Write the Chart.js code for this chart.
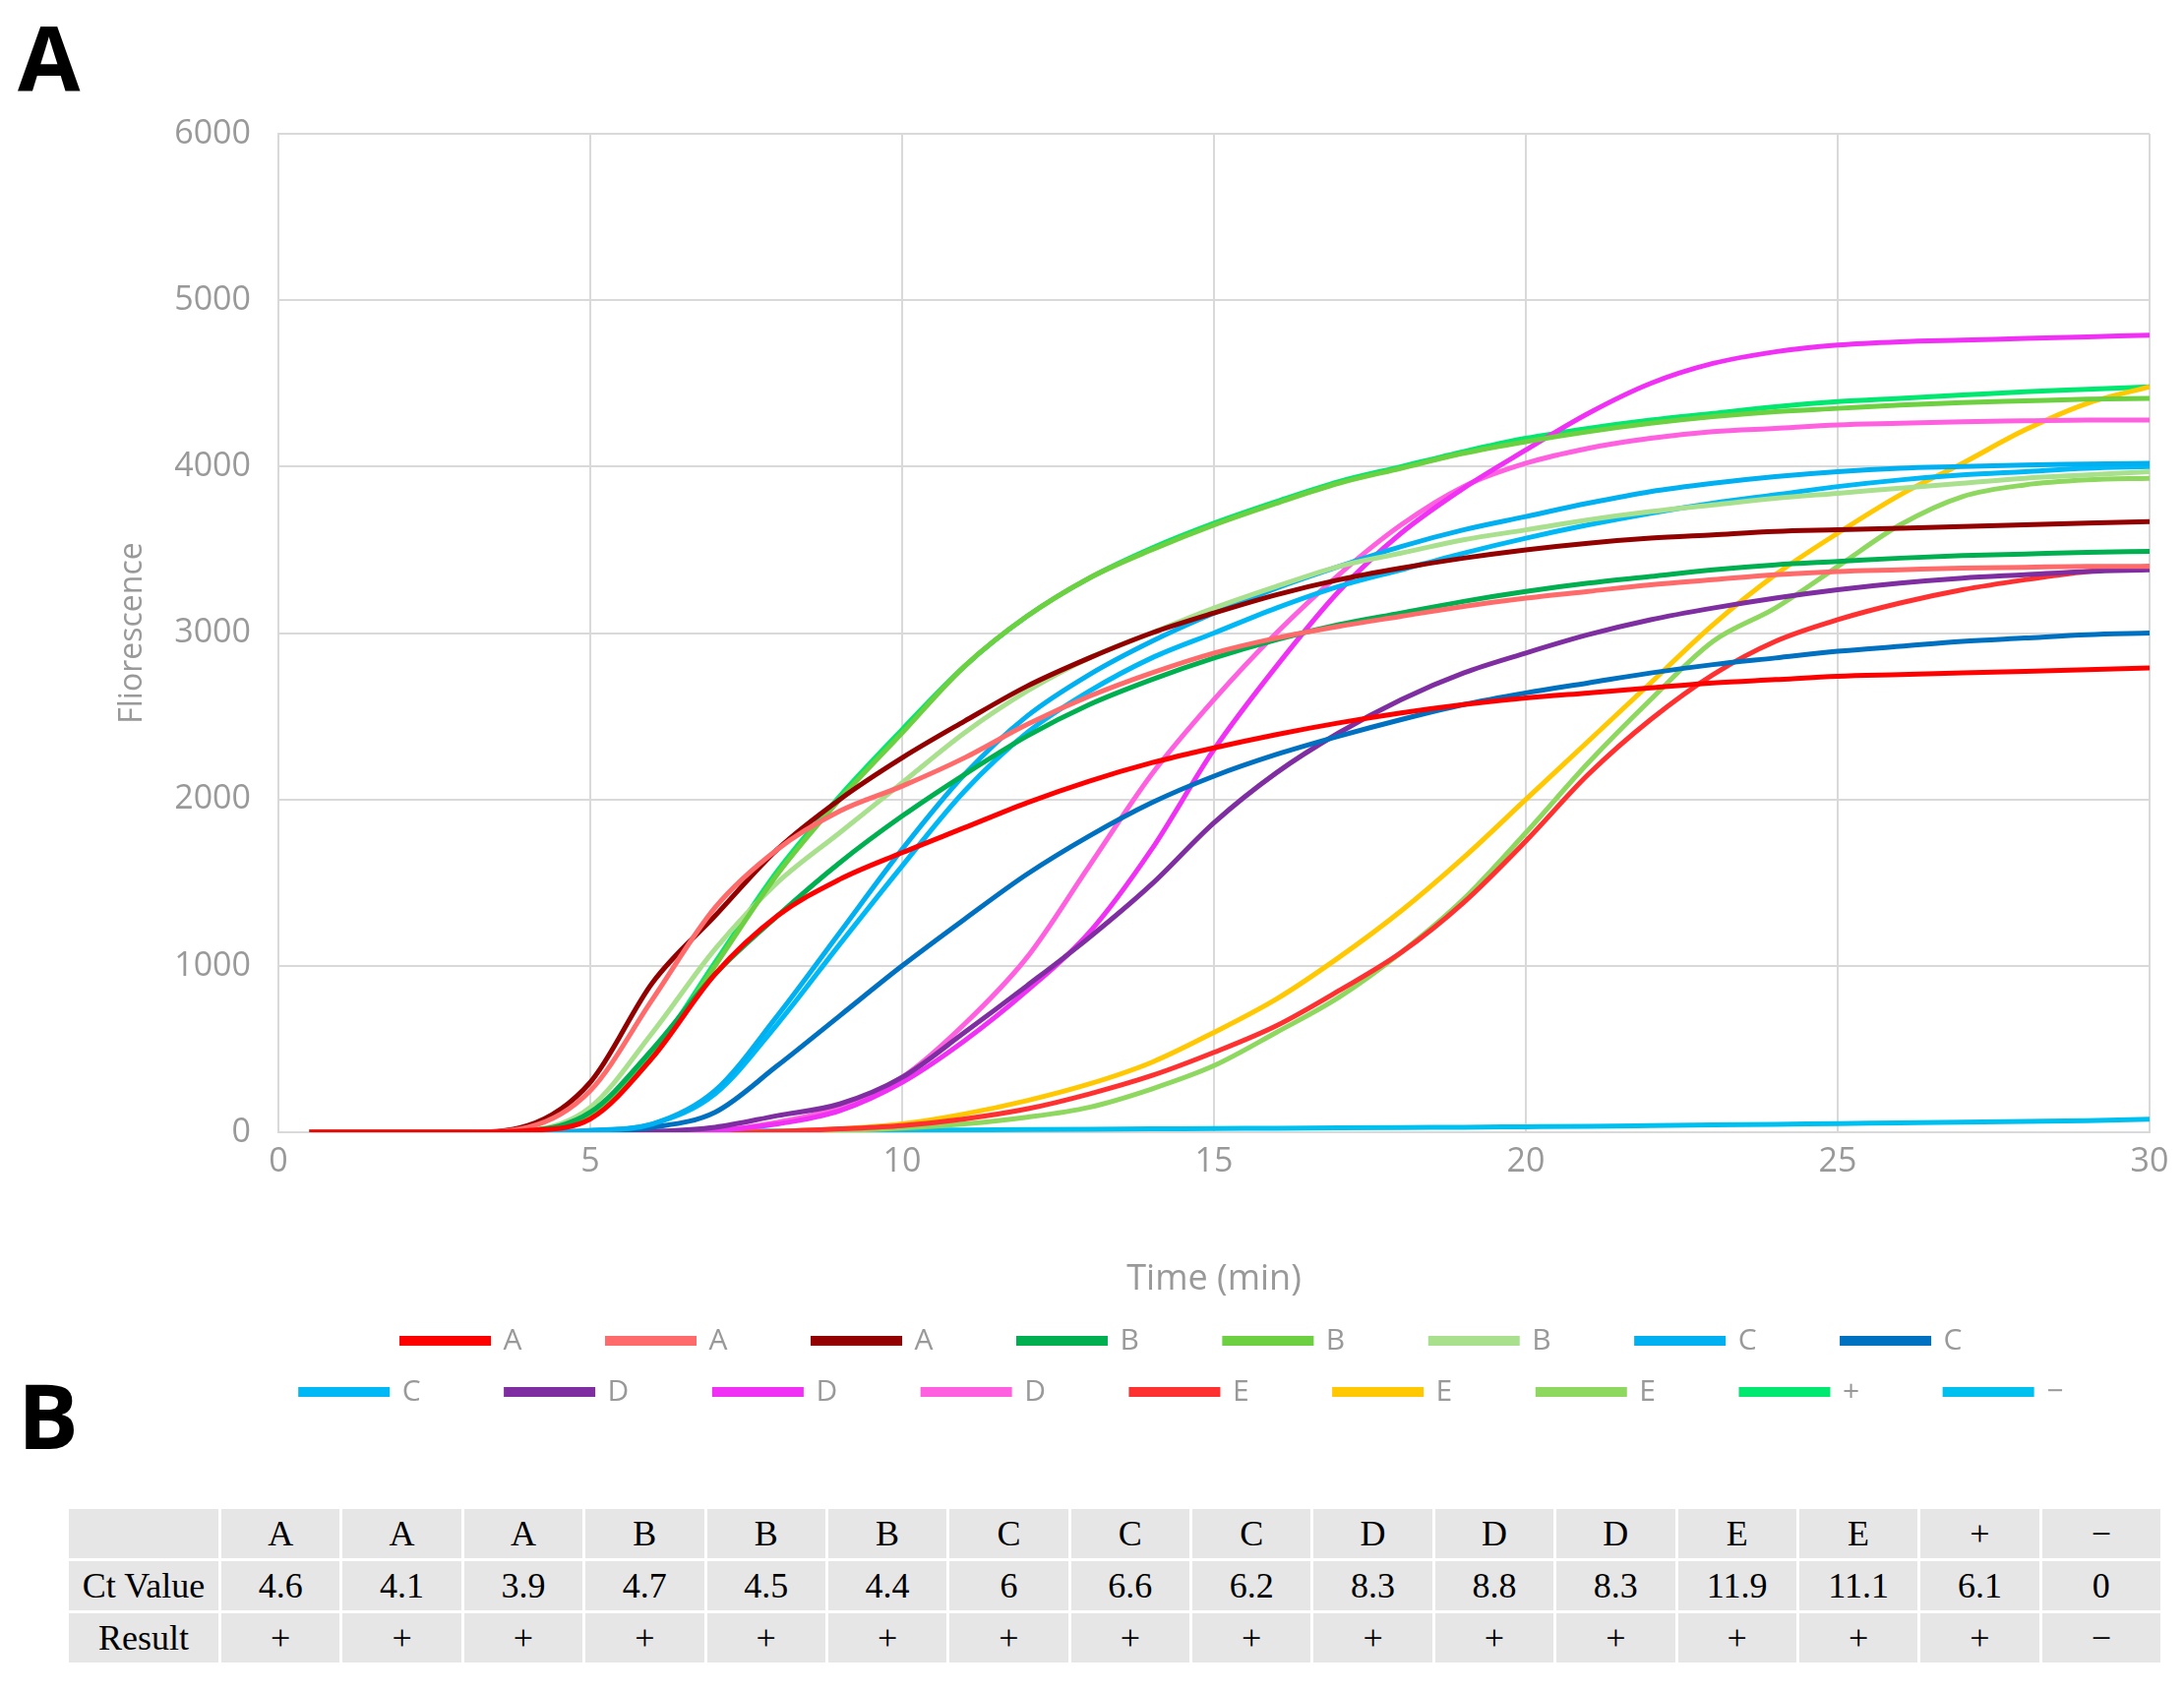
<!DOCTYPE html>
<html><head><meta charset="utf-8">
<script src="https://cdn.jsdelivr.net/npm/chart.js@4"></script>
<style>
body{margin:0;background:#fff;width:2220px;height:1719px;position:relative;overflow:hidden;font-family:"Open Sans",sans-serif}
#wrap{position:absolute;left:0;top:0;width:2220px;height:1440px}
.lab{position:absolute;font-family:"Open Sans","DejaVu Sans",sans-serif;font-weight:700;font-size:92px;line-height:1}
table{position:absolute;left:67px;top:1531px;width:2132px;border-collapse:collapse;font-family:"Liberation Serif",serif;font-size:36px;table-layout:fixed}
td{background:#e6e6e6;border:3px solid #fff;text-align:center;height:50px;padding:0}
</style></head><body>
<div class="lab" style="left:18px;top:12px">A</div>
<div class="lab" style="left:18px;top:1392px">B</div>
<div id="wrap"><canvas id="c"></canvas></div>
<table id="t"></table>
<script>
const times=[0.5,3,4,5,6,7,8,9,10,11,12,13,14,15,16,17,18,19,20,21,22,23,24,25,26,27,28,29,30];
const A1=[0,0,10,80,450,950,1300,1520,1680,1830,1980,2110,2220,2310,2390,2460,2520,2570,2610,2640,2670,2700,2720,2740,2750,2760,2770,2780,2790];
const A2=[0,0,30,250,800,1350,1700,1930,2080,2250,2450,2620,2760,2880,2970,3040,3100,3160,3210,3250,3290,3320,3350,3370,3380,3390,3395,3400,3400];
const A3=[0,0,40,300,900,1300,1700,2000,2250,2470,2680,2850,3000,3120,3230,3320,3390,3450,3500,3540,3570,3590,3610,3620,3630,3640,3650,3660,3670];
const B1=[0,0,10,120,500,950,1300,1620,1900,2150,2380,2570,2720,2850,2960,3050,3120,3190,3250,3300,3340,3380,3410,3430,3450,3465,3475,3485,3490];
const B2=[0,0,10,100,450,1000,1550,2000,2400,2800,3100,3330,3500,3650,3780,3900,3990,4080,4150,4210,4260,4300,4330,4350,4370,4385,4395,4405,4410];
const B3=[0,0,10,150,600,1100,1500,1800,2100,2400,2650,2850,3000,3150,3280,3400,3480,3560,3620,3680,3730,3770,3810,3840,3870,3900,3930,3950,3970];
const C1=[0,0,0,10,50,250,700,1200,1700,2150,2500,2750,2950,3120,3270,3400,3520,3620,3700,3780,3850,3900,3940,3970,3990,4000,4010,4015,4020];
const C2=[0,0,0,5,30,120,400,700,1000,1280,1550,1780,1980,2140,2270,2380,2480,2570,2640,2700,2760,2810,2850,2890,2920,2950,2970,2990,3000];
const C3=[0,0,0,10,50,230,650,1130,1600,2050,2400,2650,2850,3000,3150,3280,3380,3480,3570,3650,3720,3780,3830,3880,3920,3950,3970,3990,4000];
const D1=[0,0,0,0,5,30,100,170,330,600,880,1170,1490,1860,2160,2400,2600,2760,2880,2990,3080,3150,3210,3260,3300,3330,3350,3370,3380];
const D2=[0,0,0,0,0,10,50,130,300,550,850,1200,1700,2300,2800,3250,3600,3870,4100,4320,4500,4620,4690,4730,4750,4760,4770,4780,4790];
const D3=[0,0,0,0,0,10,60,150,330,650,1050,1600,2150,2600,3000,3350,3650,3880,4020,4110,4170,4210,4230,4250,4260,4270,4275,4280,4280];
const E1=[0,0,0,0,0,0,5,20,40,80,140,230,340,480,640,850,1080,1380,1750,2150,2480,2750,2950,3080,3180,3260,3320,3370,3400];
const E2=[0,0,0,0,0,0,5,20,50,110,190,290,420,600,800,1050,1330,1650,2000,2350,2700,3050,3350,3600,3830,4020,4220,4380,4480];
const E3=[0,0,0,0,0,0,3,10,25,50,90,150,260,400,600,810,1080,1400,1800,2220,2600,2950,3150,3400,3650,3820,3890,3920,3930];
const POS=[0,0,10,110,470,1020,1570,2020,2420,2800,3100,3330,3510,3660,3790,3910,4000,4090,4170,4230,4280,4320,4360,4390,4410,4430,4450,4465,4480];
const NEG=[0,0,0,2,4,6,8,10,12,14,16,18,20,22,24,26,28,30,33,36,40,44,48,52,56,60,65,70,78];
const seriesData=[A1,A2,A3,B1,B2,B3,C1,C2,C3,D1,D2,D3,E1,E2,E3,POS,NEG];
const colors=["#FF0000","#FF6B6B","#920000","#00B050","#6CD040","#A9E08E","#00B0F0","#0070C0","#00B8F5","#7E2EA0","#F030F5","#FF60E0","#FF3030","#FFC800","#8FD860","#00E870","#00C0F0"];
const legendNames=["A","A","A","B","B","B","C","C","C","D","D","D","E","E","E","+","−"];
const tHeader=["A","A","A","B","B","B","C","C","C","D","D","D","E","E","+","−"];
const ctValues=["4.6","4.1","3.9","4.7","4.5","4.4","6","6.6","6.2","8.3","8.8","8.3","11.9","11.1","6.1","0"];
const results=["+","+","+","+","+","+","+","+","+","+","+","+","+","+","+","−"];

const datasets=seriesData.map((d,i)=>({label:legendNames[i]+"\u2003\u2003\u2006",data:d.map((v,j)=>({x:times[j],y:v})),
 borderColor:colors[i],backgroundColor:colors[i],borderWidth:5,pointRadius:0,cubicInterpolationMode:'monotone',fill:false}));
const gray="#999";
new Chart(document.getElementById('c'),{type:'line',data:{datasets},
options:{responsive:true,maintainAspectRatio:false,animation:false,
 layout:{padding:{top:136,right:35,left:112,bottom:0}},
 plugins:{legend:{position:'bottom',fullSize:false,labels:{boxWidth:88,boxHeight:5,padding:22,color:gray,font:{family:"Open Sans",size:30}}},tooltip:{enabled:false}},
 scales:{
  x:{type:'linear',min:0,max:30,ticks:{stepSize:5,color:gray,font:{family:"Open Sans",size:34},padding:10},
     grid:{color:"#d9d9d9",lineWidth:2,drawTicks:false},border:{color:"#d9d9d9",width:2},
     title:{display:true,text:"Time (min)",color:gray,font:{family:"Open Sans",size:36},padding:{top:14}},
     afterFit(s){s.height=175;}},
  y:{min:0,max:6000,ticks:{stepSize:1000,color:gray,font:{family:"Open Sans",size:34},padding:28,callback:v=>String(v)},
     grid:{color:"#d9d9d9",lineWidth:2,drawTicks:false},border:{color:"#d9d9d9",width:2},
     title:{display:true,text:"Fliorescence",color:gray,font:{family:"Open Sans",size:32},padding:{bottom:0}},
     afterFit(s){s.width=171;}}
 }}});

const t=document.getElementById('t');
let h='<colgroup><col style="width:155px">'+tHeader.map(()=>'<col>').join('')+'</colgroup>';
h+='<tr><td></td>'+tHeader.map(x=>'<td>'+x+'</td>').join('')+'</tr>';
h+='<tr><td>Ct Value</td>'+ctValues.map(x=>'<td>'+x+'</td>').join('')+'</tr>';
h+='<tr><td>Result</td>'+results.map(x=>'<td>'+x+'</td>').join('')+'</tr>';
t.innerHTML=h;
</script></body></html>
